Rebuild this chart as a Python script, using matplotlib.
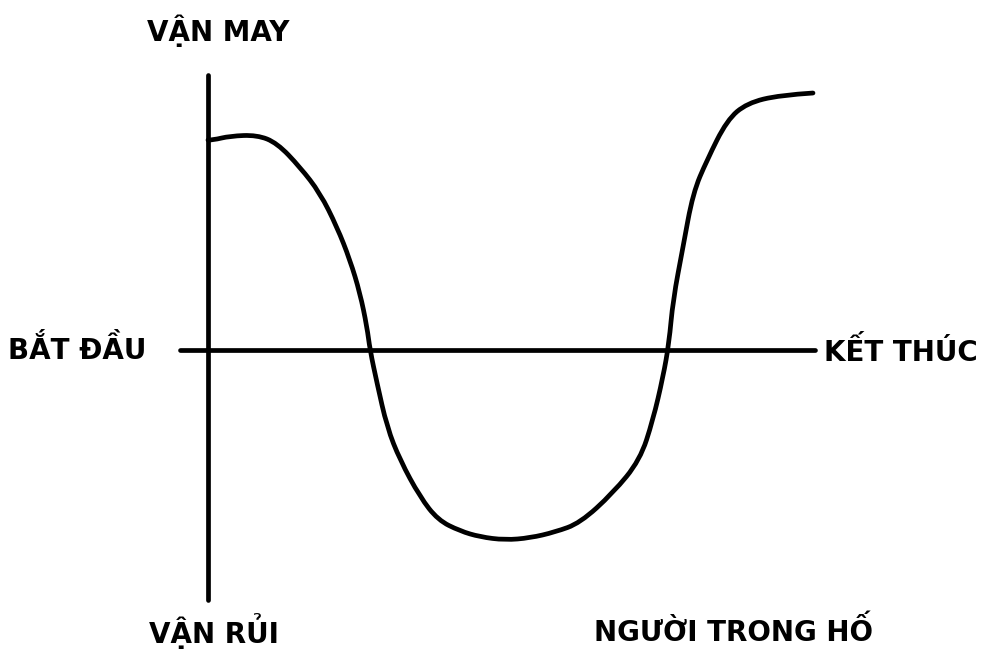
import matplotlib
matplotlib.use("Agg")
import matplotlib.pyplot as plt
from matplotlib.path import Path
from matplotlib.patches import PathPatch

# story shape: x = time (0 = start, 100 = end), y = fortune
story_x = [0, 0.82, 3.62, 8.07, 11.37, 15.16, 18.45, 21.25, 23.39, 25.04, 26.19, 26.69,
           27.84, 29.49, 31.63, 34.93, 37.89, 41.52, 44.81, 48.93, 53.05, 57.17, 61.29,
           66.72, 71.17, 73.31, 74.96, 75.95, 76.61, 78.25, 79.90, 82.21, 85.50, 88.80,
           94.23, 99.67]
story_y = [1.0, 1.0, 1.019, 1.024, 0.986, 0.871, 0.748, 0.586, 0.429, 0.271, 0.110, 0.0,
           -0.157, -0.367, -0.524, -0.700, -0.810, -0.862, -0.890, -0.905, -0.895, -0.867,
           -0.824, -0.681, -0.524, -0.333, -0.129, 0.033, 0.238, 0.490, 0.748, 0.905,
           1.095, 1.176, 1.214, 1.224]

label_top = "VẬN MAY"
label_bottom = "VẬN RỦI"
label_start = "BẮT ĐẦU"
label_end = "KẾT THÚC"
title = "NGƯỜI TRONG HỐ"

fig = plt.figure(figsize=(9.81, 6.49), dpi=100)
ax = fig.add_axes([0, 0, 1, 1])
ax.set_xlim(-34.27, 127.35)
ax.set_ylim(-1.424, 1.667)
ax.axis("off")

lw = 3.4
ax.plot([0, 0], [-1.19, 1.31], color="black", lw=lw, solid_capstyle="round")
ax.plot([-4.6, 100], [0, 0], color="black", lw=lw, solid_capstyle="round")

# smooth hand-drawn stroke: points act as quadratic control points
pts = list(zip(story_x, story_y))
verts = [pts[0]]
codes = [Path.MOVETO]
for i in range(1, len(pts) - 1):
    mid = ((pts[i][0] + pts[i + 1][0]) / 2, (pts[i][1] + pts[i + 1][1]) / 2)
    if i == len(pts) - 2:
        mid = pts[-1]
    verts += [pts[i], mid]
    codes += [Path.CURVE3, Path.CURVE3]
ax.add_patch(PathPatch(Path(verts, codes), fill=False, edgecolor="black", lw=lw,
                       capstyle="round", joinstyle="round"))

font = dict(fontsize=20, fontweight="bold", color="black", family="DejaVu Sans")
ax.text(1.7, 1.52, label_top, ha="center", va="center", **font)
ax.text(-21.6, 0.0, label_start, ha="center", va="center", **font)
ax.text(126.8, -0.01, label_end, ha="right", va="center", **font)
ax.text(1.0, -1.34, label_bottom, ha="center", va="center", **font)
ax.text(86.5, -1.34, title, ha="center", va="center", **font)

fig.savefig("out.png", dpi=100, facecolor="white")
